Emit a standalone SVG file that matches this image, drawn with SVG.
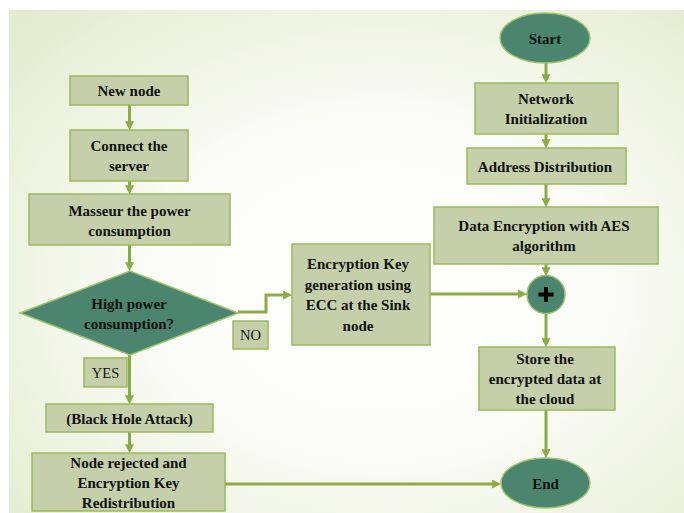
<svg xmlns="http://www.w3.org/2000/svg" width="684" height="513" viewBox="0 0 684 513">
<defs>
<radialGradient id="bg" cx="0.55" cy="0.55" r="0.75">
<stop offset="0" stop-color="#ffffff"/>
<stop offset="0.45" stop-color="#fbfcf7"/>
<stop offset="1" stop-color="#e4ebcf"/>
</radialGradient>
<marker id="ah" viewBox="0 0 10 10" refX="2" refY="5" markerWidth="9" markerHeight="9" markerUnits="userSpaceOnUse" orient="auto">
<path d="M0,0 L10,5 L0,10 z" fill="#8eaa46"/>
</marker>
</defs>
<style>
.box{fill:#c5d0aa;stroke:#9bbb59;stroke-width:1.5}
.dark{fill:#4b846f;stroke:#9cc46a;stroke-width:1.5}
.lbl{fill:#c5d0aa;stroke:#9bbb59;stroke-width:1.5}
text{font-family:'Liberation Serif','DejaVu Serif',serif;fill:#111;text-anchor:middle}
.t{font-weight:bold;font-size:15px}
.r{font-size:14.5px}
.c{fill:none;stroke:#8eaa46;stroke-width:3}
.ca{fill:none;stroke:#8eaa46;stroke-width:3;marker-end:url(#ah)}
</style>
<rect x="0" y="0" width="684" height="513" fill="#ffffff"/>
<rect x="9" y="10" width="675" height="503" fill="url(#bg)"/>

<g id="connectors">
<line class="ca" x1="129.5" y1="105" x2="129.5" y2="123"/>
<line class="ca" x1="129.5" y1="181" x2="129.5" y2="187"/>
<line class="ca" x1="129.5" y1="245" x2="129.5" y2="264"/>
<line class="ca" x1="129.5" y1="355" x2="129.5" y2="397"/>
<line class="ca" x1="129.5" y1="432" x2="129.5" y2="446"/>
<polyline class="ca" points="238,312 266,312 266,295 285,295"/>
<line class="ca" x1="430" y1="294" x2="520" y2="294"/>
<line class="ca" x1="225" y1="484" x2="494" y2="484"/>
<line class="ca" x1="546" y1="63" x2="546" y2="76"/>
<line class="ca" x1="546" y1="134" x2="546" y2="141"/>
<line class="ca" x1="546" y1="184" x2="546" y2="200"/>
<line class="ca" x1="546" y1="264" x2="546" y2="269"/>
<line class="ca" x1="546" y1="313" x2="546" y2="340"/>
<line class="ca" x1="546" y1="410" x2="546" y2="451"/>
</g>

<g id="new-node">
<rect class="box" x="70" y="76" width="118" height="29"/>
<text class="t" x="129" y="96" font-family="Liberation Serif, serif">New node</text>
</g>
<g id="connect-server">
<rect class="box" x="70" y="130" width="118" height="51"/>
<text class="t" x="129" y="151">Connect the</text>
<text class="t" x="129" y="171">server</text>
</g>
<g id="measure-power">
<rect class="box" x="29" y="194" width="201" height="51"/>
<text class="t" x="129.5" y="216">Masseur the power</text>
<text class="t" x="129.5" y="236">consumption</text>
</g>
<g id="decision">
<polygon class="dark" points="20,313 130,271 238,313 130,355"/>
<text class="t" x="129" y="309">High power</text>
<text class="t" x="129" y="329">consumption?</text>
</g>
<g id="label-no">
<rect class="lbl" x="233" y="321" width="35" height="28"/>
<text class="r" x="250.5" y="340">NO</text>
</g>
<g id="label-yes">
<rect class="lbl" x="84" y="358" width="43" height="29"/>
<text class="r" x="105.5" y="378">YES</text>
</g>
<g id="black-hole">
<rect class="box" x="46" y="404" width="167" height="28"/>
<text class="t" x="129.5" y="424">(Black Hole Attack)</text>
</g>
<g id="node-rejected">
<rect class="box" x="32" y="453" width="193" height="58"/>
<text class="t" x="128.5" y="468">Node rejected and</text>
<text class="t" x="128.5" y="488">Encryption Key</text>
<text class="t" x="128.5" y="508">Redistribution</text>
</g>
<g id="ecc-key">
<rect class="box" x="292" y="244" width="138" height="101"/>
<text class="t" x="358" y="269">Encryption Key</text>
<text class="t" x="358" y="289.5">generation using</text>
<text class="t" x="358" y="310">ECC at the Sink</text>
<text class="t" x="358" y="330.5">node</text>
</g>
<g id="start">
<ellipse class="dark" cx="545" cy="38" rx="45" ry="25"/>
<text class="t" x="545" y="44">Start</text>
</g>
<g id="network-init">
<rect class="box" x="475" y="83" width="143" height="51"/>
<text class="t" x="546" y="103.5">Network</text>
<text class="t" x="546" y="123.5">Initialization</text>
</g>
<g id="address-dist">
<rect class="box" x="467" y="148" width="159" height="36"/>
<text class="t" x="545" y="171.5">Address Distribution</text>
</g>
<g id="aes">
<rect class="box" x="434" y="207" width="224" height="57"/>
<text class="t" x="544" y="231">Data Encryption with AES</text>
<text class="t" x="544" y="251">algorithm</text>
</g>
<g id="join">
<circle class="dark" cx="546" cy="294.5" r="19"/>
<path d="M538.5,294.5 H553.5 M546,287 V302" stroke="#000" stroke-width="4" fill="none"/>
</g>
<g id="store">
<rect class="box" x="479" y="347" width="136" height="63"/>
<text class="t" x="545" y="363.5">Store the</text>
<text class="t" x="545" y="383.5">encrypted data at</text>
<text class="t" x="545" y="404">the cloud</text>
</g>
<g id="end">
<ellipse class="dark" cx="545.5" cy="483" rx="44.5" ry="25"/>
<text class="t" x="545.5" y="488.5">End</text>
</g>
</svg>
